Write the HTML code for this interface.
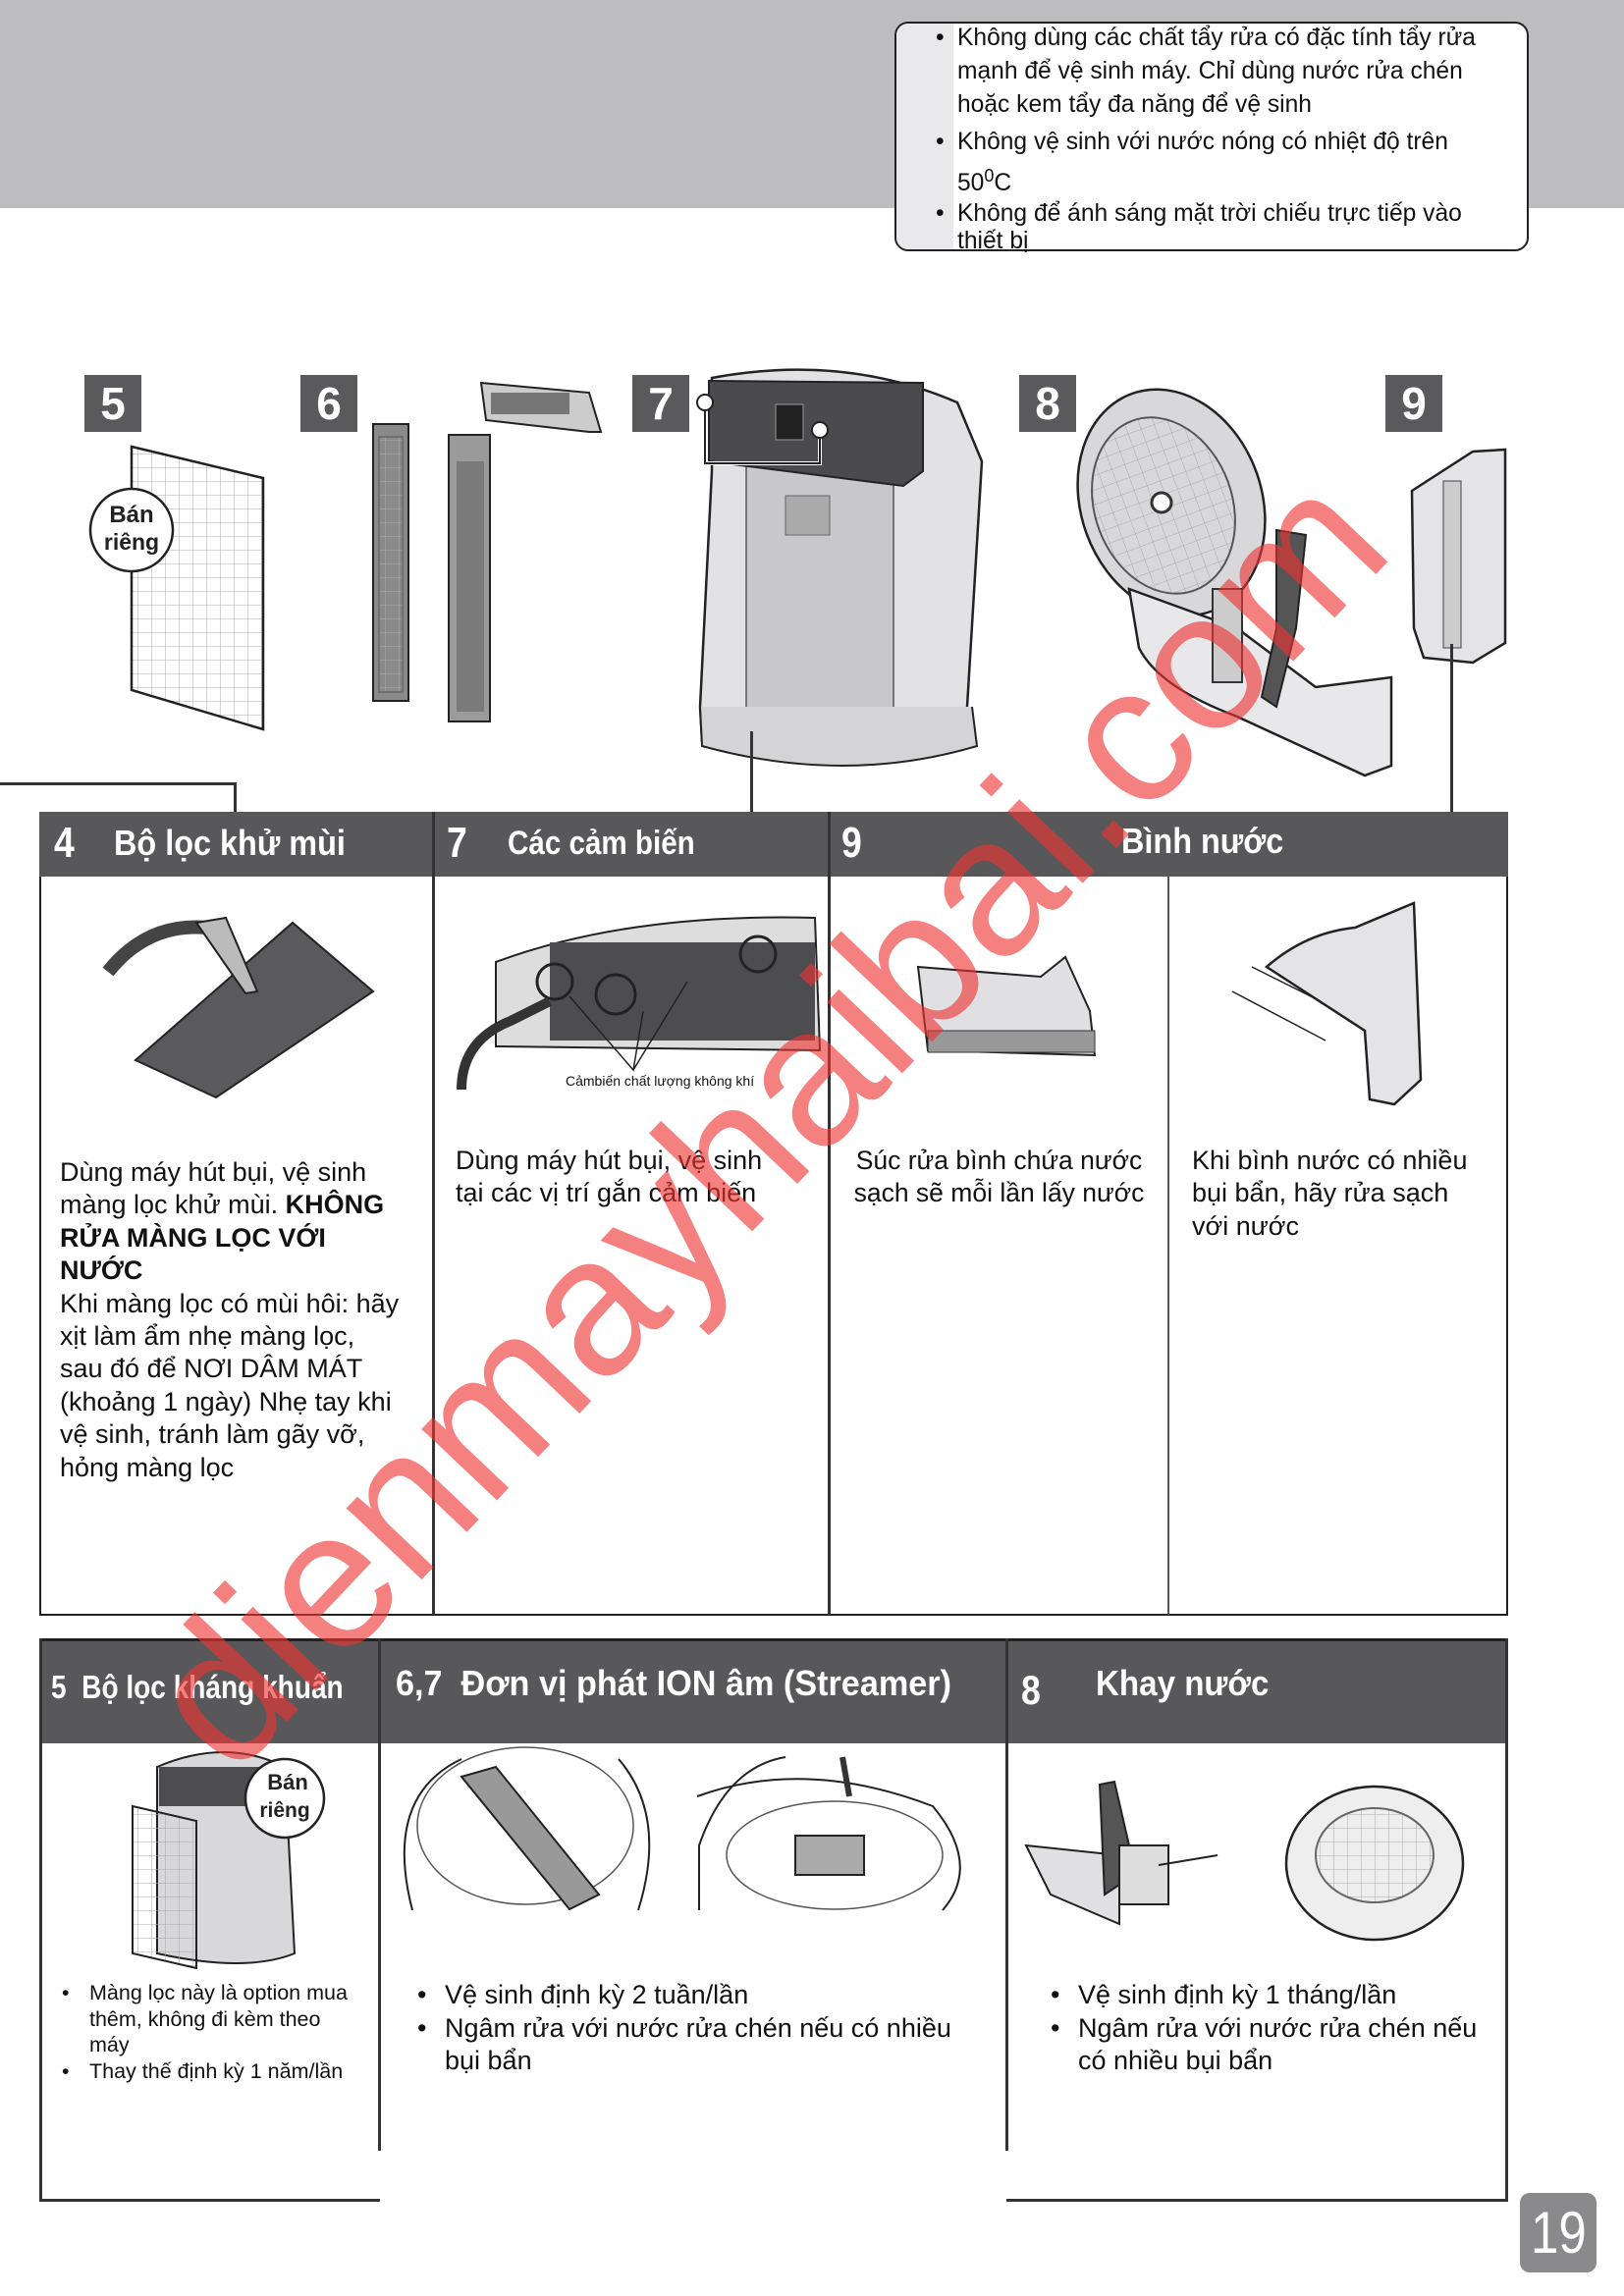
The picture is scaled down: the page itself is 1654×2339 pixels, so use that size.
<!DOCTYPE html>
<html><head><meta charset="utf-8">
<style>
*{margin:0;padding:0;box-sizing:border-box}
body{width:1654px;height:2339px;position:relative;background:#fff;overflow:hidden;font-family:"Liberation Sans","DejaVu Sans",sans-serif;color:#111}
.a{position:absolute}
.badge{position:absolute;top:382px;width:58px;height:58px;background:#5a5a5c;color:#fff;font-size:46px;line-height:58px;text-align:center;font-family:"Liberation Sans",sans-serif;font-weight:bold}
.hd{position:absolute;color:#fff;white-space:nowrap;font-family:"Liberation Sans",sans-serif;font-weight:bold;transform-origin:0 50%}
.bt{position:absolute;font-size:27px;line-height:33.4px;white-space:nowrap}
.ln{position:absolute;background:#333}
ul{list-style:none}
.note li{position:relative}
.note li:before{content:"•";position:absolute;left:-22px}
.bl li{position:relative}
.bl li:before{content:"•";position:absolute;left:-28px}
</style></head><body>

<div class="a" style="left:0;top:0;width:1654px;height:212px;background:#bdbdbf"></div>
<div class="a" style="left:911px;top:22px;width:646px;height:234px;background:#fff;border:2.5px solid #222;border-radius:14px;overflow:hidden">
  <div class="a" style="left:0;top:0;width:58px;height:100%;background:#e9e9eb"></div>
</div>
<div class="a note" style="left:975px;top:22px;font-size:24.6px;line-height:34px;color:#111;white-space:nowrap">
  <ul>
  <li>Không dùng các chất tẩy rửa có đặc tính tẩy rửa<br>mạnh để vệ sinh máy. Chỉ dùng nước rửa chén<br>hoặc kem tẩy đa năng để vệ sinh</li>
  <li style="margin-top:4px">Không vệ sinh với nước nóng có nhiệt độ trên<br>50<sup style="font-size:18px">0</sup>C</li>
  <li style="line-height:28px">Không để ánh sáng mặt trời chiếu trực tiếp vào<br>thiết bị</li>
  </ul>
</div>

<div class="badge" style="left:86px">5</div>
<div class="badge" style="left:306px">6</div>
<div class="badge" style="left:644px">7</div>
<div class="badge" style="left:1038px">8</div>
<div class="badge" style="left:1411px">9</div>

<svg class="a" style="left:0;top:370px" width="1654" height="460" viewBox="0 370 1654 460">
  <defs>
    <pattern id="grid" width="14" height="14" patternUnits="userSpaceOnUse"><path d="M14 0H0V14" fill="none" stroke="#aaa" stroke-width="1"/></pattern>
  </defs>
  <polygon points="134,455 268,487 268,743 134,703" fill="url(#grid)" stroke="#222" stroke-width="2.5"/>
  <circle cx="134" cy="540" r="42" fill="#fff" stroke="#222" stroke-width="2.5"/>
  <text x="134" y="532" text-anchor="middle" font-family="Liberation Sans,sans-serif" font-weight="bold" font-size="24" fill="#222">Bán</text>
  <text x="134" y="560" text-anchor="middle" font-family="Liberation Sans,sans-serif" font-weight="bold" font-size="23" fill="#222">riêng</text>
  <rect x="380" y="432" width="36" height="282" fill="#8a8a8a" stroke="#222" stroke-width="2"/>
  <rect x="386" y="445" width="24" height="260" fill="url(#grid)" stroke="#555"/>
  <rect x="457" y="443" width="42" height="292" fill="#9a9a9a" stroke="#222" stroke-width="2"/>
  <rect x="465" y="470" width="28" height="255" fill="#666" opacity=".6"/>
  <polygon points="490,390 600,400 612,440 600,440 495,428" fill="#ccc" stroke="#222" stroke-width="2"/>
  <rect x="500" y="400" width="80" height="22" fill="#777"/>
  <path d="M725,385 Q860,360 975,410 L1000,470 L985,720 L990,760 Q900,790 715,755 L713,720 L725,480 Z" fill="#e2e2e4" stroke="#222" stroke-width="2.5"/>
  <rect x="760" y="470" width="150" height="270" fill="#c8c8ca" stroke="#555" stroke-width="1.5"/>
  <path d="M722,388 L940,390 L940,480 L920,495 L722,470 Z" fill="#4b4b4d" stroke="#222" stroke-width="2"/>
  <rect x="790" y="412" width="28" height="36" fill="#222" stroke="#999"/>
  <rect x="800" y="505" width="45" height="40" fill="#aaa" stroke="#666"/>
  <path d="M718,410 L718,472 L835,472 L835,438" fill="none" stroke="#fff" stroke-width="4"/>
  <path d="M718,410 L718,472 L835,472 L835,438" fill="none" stroke="#222" stroke-width="2"/>
  <circle cx="718" cy="410" r="8" fill="#fff" stroke="#222" stroke-width="2"/>
  <circle cx="835" cy="438" r="8" fill="#fff" stroke="#222" stroke-width="2"/>
  <path d="M713,720 L715,760 Q860,800 995,760 L990,720" fill="#d4d4d6" stroke="#222" stroke-width="2"/>
  <ellipse cx="1193" cy="512" rx="92" ry="118" fill="#d8d8da" stroke="#222" stroke-width="2.5" transform="rotate(-20 1193 512)"/>
  <ellipse cx="1185" cy="515" rx="70" ry="92" fill="url(#grid)" stroke="#555" stroke-width="2" transform="rotate(-20 1185 515)"/>
  <circle cx="1183" cy="512" r="10" fill="#fff" stroke="#333" stroke-width="3"/>
  <path d="M1150,600 L1260,640 L1340,700 L1417,690 L1417,780 L1390,790 L1260,730 Q1180,700 1160,660 Z" fill="#e8e8ea" stroke="#222" stroke-width="2.5"/>
  <path d="M1300,540 L1330,545 L1320,640 L1300,720 L1285,710 L1300,640 Z" fill="#555" stroke="#222" stroke-width="2"/>
  <rect x="1235" y="600" width="30" height="95" fill="#ccc" stroke="#333" stroke-width="2"/>
  <path d="M1438,500 L1500,460 L1533,458 L1533,655 L1500,675 L1450,670 L1440,640 Z" fill="#e4e4e6" stroke="#222" stroke-width="2.5"/>
  <rect x="1470" y="490" width="18" height="170" fill="#ccc" stroke="#444"/>
</svg>

<div class="ln" style="left:0;top:797px;width:241px;height:3px"></div>
<div class="ln" style="left:238px;top:797px;width:3px;height:32px"></div>
<div class="ln" style="left:764px;top:745px;width:3px;height:84px"></div>
<div class="ln" style="left:1477px;top:656px;width:3px;height:173px"></div>

<div class="a" style="left:40px;top:827px;width:1496px;height:819px;border:2.5px solid #222"></div>
<div class="a" style="left:40px;top:827px;width:1496px;height:66px;background:#58585a"></div>
<div class="ln" style="left:440px;top:827px;width:2.5px;height:818px"></div>
<div class="ln" style="left:843px;top:827px;width:2.5px;height:818px"></div>
<div class="ln" style="left:1189px;top:892px;width:2px;height:753px;background:#555"></div>
<div class="hd" style="left:55px;top:834px;font-size:44px;transform:scaleX(.85)">4</div>
<div class="hd" style="left:116px;top:838px;font-size:36px;transform:scaleX(.9)">Bộ lọc khử mùi</div>
<div class="hd" style="left:455px;top:834px;font-size:44px;transform:scaleX(.85)">7</div>
<div class="hd" style="left:517px;top:840px;font-size:34px;transform:scaleX(.87)">Các cảm biến</div>
<div class="hd" style="left:857px;top:834px;font-size:44px;transform:scaleX(.85)">9</div>
<div class="hd" style="left:1142px;top:836px;font-size:36px;transform:scaleX(.9)">Bình nước</div>

<svg class="a" style="left:40px;top:893px" width="1494" height="260" viewBox="40 893 1494 260">
  <polygon points="138,1080 298,940 380,1010 220,1118" fill="#5a5a5c" stroke="#222" stroke-width="2"/>
  <path d="M110,990 Q150,940 210,945" fill="none" stroke="#444" stroke-width="14"/>
  <path d="M200,940 L230,935 L262,1010 L250,1012 Z" fill="#bbb" stroke="#222" stroke-width="2"/>
  <path d="M505,1066 L505,980 Q640,930 830,935 L835,1070 Z" fill="#ddd" stroke="#222" stroke-width="2"/>
  <rect x="560" y="960" width="270" height="100" fill="#4d4d4f"/>
  <circle cx="565" cy="1000" r="18" fill="none" stroke="#222" stroke-width="3"/>
  <circle cx="627" cy="1013" r="20" fill="none" stroke="#222" stroke-width="3"/>
  <circle cx="772" cy="972" r="18" fill="none" stroke="#222" stroke-width="3"/>
  <path d="M580,1015 L645,1090 L655,1030 M645,1090 L700,1000" fill="none" stroke="#222" stroke-width="1.5"/>
  <path d="M470,1110 Q470,1060 520,1040 L560,1020" fill="none" stroke="#333" stroke-width="10"/>
  <text x="576" y="1106" font-size="14" font-family="Liberation Sans,sans-serif" fill="#111">Cảmbiến chất lượng không khí</text>
  <path d="M935,985 L1060,995 L1085,975 L1110,1030 L1115,1075 L945,1070 Z" fill="#e0e0e2" stroke="#222" stroke-width="2"/>
  <rect x="945" y="1050" width="170" height="22" fill="#999" stroke="#333"/>
  <path d="M1290,985 Q1330,950 1380,945 L1440,920 L1447,1100 L1420,1125 L1395,1120 L1390,1050 Z" fill="#e4e4e6" stroke="#222" stroke-width="2.5"/>
  <path d="M1255,1010 L1350,1060 M1275,985 L1345,1020" stroke="#222" stroke-width="1.5"/>
</svg>

<div class="bt" style="left:61px;top:1178px">Dùng máy hút bụi, vệ sinh<br>màng lọc khử mùi. <b>KHÔNG<br>RỬA MÀNG LỌC VỚI<br>NƯỚC</b><br>Khi màng lọc có mùi hôi: hãy<br>xịt làm ẩm nhẹ màng lọc,<br>sau đó để NƠI DÂM MÁT<br>(khoảng 1 ngày) Nhẹ tay khi<br>vệ sinh, tránh làm gãy vỡ,<br>hỏng màng lọc</div>
<div class="bt" style="left:464px;top:1166px">Dùng máy hút bụi, vệ sinh<br>tại các vị trí gắn cảm biến</div>
<div class="bt" style="left:846px;width:343px;top:1166px;text-align:center;font-size:26.5px">Súc rửa bình chứa nước<br>sạch sẽ mỗi lần lấy nước</div>
<div class="bt" style="left:1214px;top:1166px">Khi bình nước có nhiều<br>bụi bẩn, hãy rửa sạch<br>với nước</div>

<div class="a" style="left:40px;top:1669px;width:1496px;height:107px;background:#58585a;border-top:3px solid #222"></div>
<div class="ln" style="left:40px;top:1669px;width:2.5px;height:574px"></div>
<div class="ln" style="left:1533px;top:1669px;width:2.5px;height:574px"></div>
<div class="ln" style="left:40px;top:2240px;width:347px;height:3px"></div>
<div class="ln" style="left:1025px;top:2240px;width:511px;height:3px"></div>
<div class="ln" style="left:385px;top:1669px;width:2.5px;height:522px"></div>
<div class="ln" style="left:1024px;top:1669px;width:2.5px;height:522px"></div>
<div class="hd" style="left:52px;top:1700px;font-size:33px;transform:scaleX(.85)">5&nbsp; Bộ lọc kháng khuẩn</div>
<div class="hd" style="left:403px;top:1694px;font-size:36px;transform:scaleX(.95)">6,7&nbsp; Đơn vị phát ION âm (Streamer)</div>
<div class="hd" style="left:1040px;top:1698px;font-size:42px;transform:scaleX(.85)">8</div>
<div class="hd" style="left:1116px;top:1694px;font-size:36px;transform:scaleX(.92)">Khay nước</div>

<svg class="a" style="left:40px;top:1776px" width="1494" height="230" viewBox="40 1776 1494 230">
  <path d="M160,1800 Q230,1770 290,1800 L300,1990 Q250,2010 160,1990 Z" fill="#d8d8da" stroke="#222" stroke-width="2"/>
  <rect x="162" y="1800" width="120" height="40" fill="#4d4d4f"/>
  <polygon points="135,1840 200,1855 200,2005 135,1990" fill="url(#grid)" stroke="#222" stroke-width="2"/>
  <circle cx="290" cy="1832" r="40" fill="#fff" stroke="#222" stroke-width="2.5"/>
  <text x="293" y="1823" text-anchor="middle" font-family="Liberation Sans,sans-serif" font-weight="bold" font-size="22" fill="#222">Bán</text>
  <text x="290" y="1851" text-anchor="middle" font-family="Liberation Sans,sans-serif" font-weight="bold" font-size="21" fill="#222">riêng</text>
  <path d="M420,1946 Q390,1830 470,1792 M630,1792 Q680,1850 650,1946" fill="none" stroke="#222" stroke-width="2"/>
  <ellipse cx="535" cy="1860" rx="110" ry="80" fill="none" stroke="#555" stroke-width="1.5"/>
  <polygon points="470,1810 505,1800 610,1930 580,1945" fill="#999" stroke="#222" stroke-width="2"/>
  <path d="M712,1946 L712,1880 Q740,1800 800,1790 M710,1830 Q820,1790 950,1840 Q1000,1900 960,1946" fill="none" stroke="#222" stroke-width="2"/>
  <ellipse cx="850" cy="1890" rx="110" ry="55" fill="none" stroke="#555" stroke-width="1.5"/>
  <rect x="810" y="1870" width="70" height="40" fill="#aaa" stroke="#222" stroke-width="2"/>
  <path d="M858,1790 L865,1830" stroke="#333" stroke-width="6"/>
  <path d="M1045,1880 L1140,1890 L1140,1960 L1070,1930 Z" fill="#e0e0e2" stroke="#222" stroke-width="2"/>
  <path d="M1120,1818 L1135,1815 L1150,1880 L1140,1920 L1125,1930 Z" fill="#555" stroke="#222" stroke-width="2"/>
  <rect x="1140" y="1880" width="50" height="60" fill="#ddd" stroke="#222" stroke-width="2"/>
  <path d="M1180,1900 L1240,1890" stroke="#222" stroke-width="2"/>
  <ellipse cx="1400" cy="1898" rx="90" ry="78" fill="#eee" stroke="#222" stroke-width="2.5"/>
  <ellipse cx="1400" cy="1890" rx="60" ry="48" fill="url(#grid)" stroke="#666" stroke-width="2"/>
</svg>

<div class="a bl" style="left:91px;top:2017px;font-size:21.5px;line-height:26.5px;white-space:nowrap">
  <ul><li>Màng lọc này là option mua<br>thêm, không đi kèm theo<br>máy</li><li>Thay thế định kỳ 1 năm/lần</li></ul>
</div>
<div class="a bl" style="left:453px;top:2016px;font-size:27px;line-height:33.5px;white-space:nowrap">
  <ul><li>Vệ sinh định kỳ 2 tuần/lần</li><li>Ngâm rửa với nước rửa chén nếu có nhiều<br>bụi bẩn</li></ul>
</div>
<div class="a bl" style="left:1098px;top:2016px;font-size:27px;line-height:33.5px;white-space:nowrap">
  <ul><li>Vệ sinh định kỳ 1 tháng/lần</li><li>Ngâm rửa với nước rửa chén nếu<br>có nhiều bụi bẩn</li></ul>
</div>

<div class="a" style="left:1548px;top:2234px;width:78px;height:81px;background:#8a8a8c;border-radius:10px;color:#fff;font-size:60px;line-height:81px;text-align:center;font-family:'Liberation Sans',sans-serif"><span style="display:inline-block;transform:scaleX(.85)">19</span></div>

<div class="a" style="left:-120px;top:1021px;width:1800px;height:240px;text-align:center;font-size:200px;line-height:240px;color:#ee3333;opacity:.62;transform:rotate(-46.5deg);white-space:nowrap;font-family:'Liberation Sans',sans-serif">dienmayhaibai.com</div>

</body></html>
